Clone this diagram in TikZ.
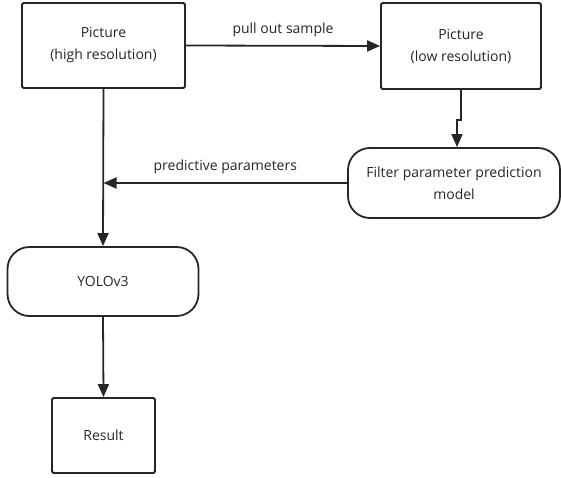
\documentclass[tikz,border=0pt]{standalone}
\usepackage{fontspec}
\setmainfont{Open Sans}
\usetikzlibrary{arrows.meta}
\definecolor{ink}{HTML}{262626}

\begin{document}
\begin{tikzpicture}[x=1pt, y=-1pt,
    every node/.style={text=ink, font=\fontsize{14}{22}\selectfont, align=center},
    box/.style={draw=ink, line width=1.8pt, rounded corners=1.5pt, inner sep=0pt},
    term/.style={draw=ink, line width=1.8pt, rounded corners=22pt, inner sep=0pt},
    flow/.style={draw=ink, line width=1.8pt, -{Triangle[length=13pt,width=11pt]}}]
  \useasboundingbox (0,0) rectangle (561,478);
  \node[box, minimum width=163pt, minimum height=85pt] (hi) at (103.5,45.5) {Picture\\(high resolution)};
  \node[box, minimum width=160pt, minimum height=86pt] (lo) at (461,46) {Picture\\(low resolution)};
  \node[term, minimum width=212pt, minimum height=70pt] (filt) at (454,183) {Filter parameter prediction\\model};
  \node[term, minimum width=191pt, minimum height=69pt] (yolo) at (103,281.5) {YOLOv3};
  \node[box, minimum width=103pt, minimum height=75pt] (res) at (103.5,435.5) {Result};
  \coordinate (join) at (hi.south |- filt.west);
  \draw[flow] (hi.east) -- node[above=5pt] {pull out sample} (lo.west);
  \draw[flow] (lo.south) -- ++(0,30) -- ++(-4,0) coordinate (jog) -- (jog |- filt.north);
  \draw[flow] (filt.west) -- node[above=5pt] {predictive parameters} (join);
  \draw[flow] (hi.south) -- (yolo.north);
  \draw[flow] (yolo.south) -- (res.north);
\end{tikzpicture}
\end{document}
